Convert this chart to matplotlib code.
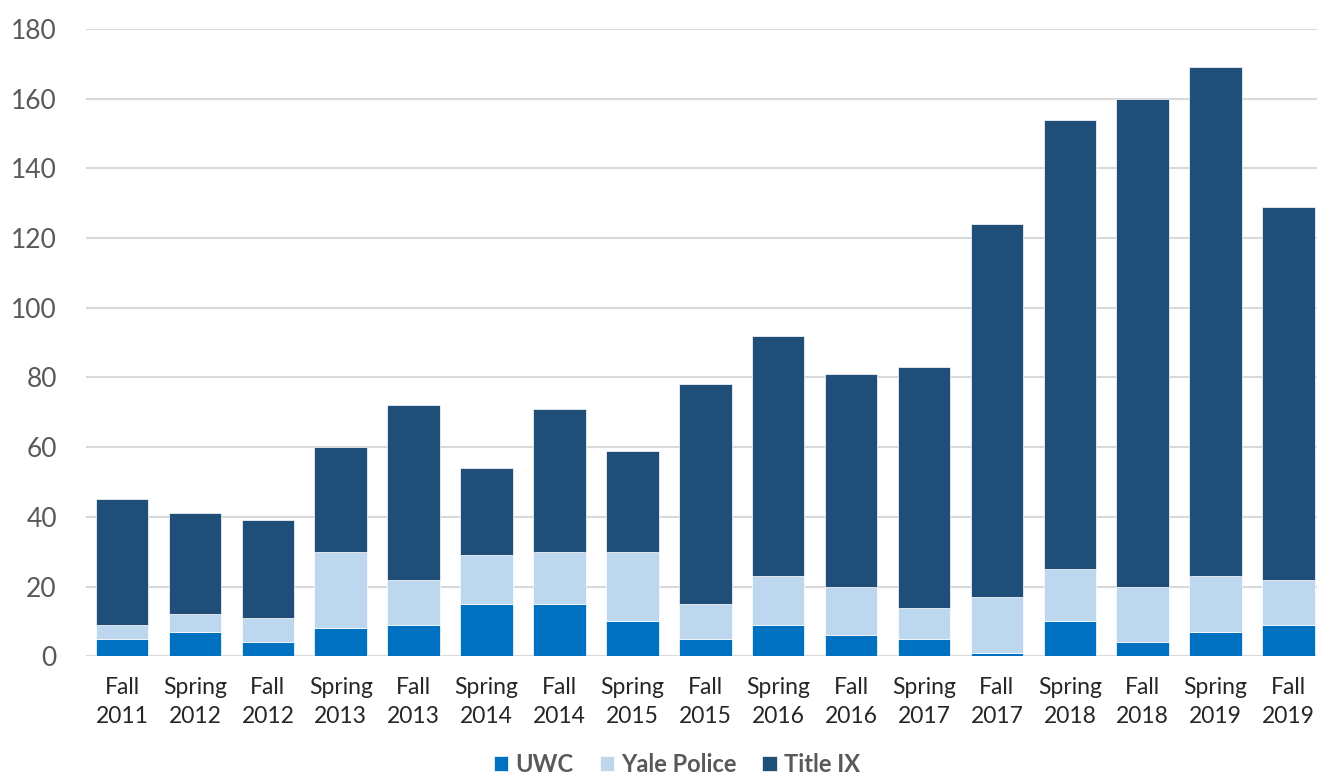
import matplotlib
matplotlib.use("Agg")
import matplotlib.pyplot as plt
import numpy as np

categories = ["Fall\n2011", "Spring\n2012", "Fall\n2012", "Spring\n2013", "Fall\n2013",
              "Spring\n2014", "Fall\n2014", "Spring\n2015", "Fall\n2015", "Spring\n2016",
              "Fall\n2016", "Spring\n2017", "Fall\n2017", "Spring\n2018", "Fall\n2018",
              "Spring\n2019", "Fall\n2019"]
uwc = [5, 7, 4, 8, 9, 15, 15, 10, 5, 9, 6, 5, 1, 10, 4, 7, 9]
yale_police = [4, 5, 7, 22, 13, 14, 15, 20, 10, 14, 14, 9, 16, 15, 16, 16, 13]
title_ix = [36, 29, 28, 30, 50, 25, 41, 29, 63, 69, 61, 69, 107, 129, 140, 146, 107]
series_names = ["UWC", "Yale Police", "Title IX"]
colors = ["#0070C0", "#BDD7EE", "#1F4E79"]
yticks = [0, 20, 40, 60, 80, 100, 120, 140, 160, 180]

plt.rcParams['font.family'] = ['Lato', 'DejaVu Sans']

fig = plt.figure(figsize=(13.17, 7.74), dpi=100)
ax = fig.add_axes([86/1317, 1 - 656.3/774, 1 - 86/1317, (656.3 - 29)/774])

x = np.arange(len(categories))
w = 0.72
bottom = np.zeros(len(categories))
handles = []
for vals, name, c in zip([uwc, yale_police, title_ix], series_names, colors):
    b = ax.bar(x, vals, w, bottom=bottom, color=c, edgecolor='white', linewidth=0.5,
               label=name, zorder=3)
    handles.append(b)
    bottom += np.array(vals)

ax.set_xlim(-0.494, 16.39)
ax.set_ylim(0, 180)
ax.set_yticks(yticks)
ax.set_xticks(x)
ax.set_xticklabels(categories, linespacing=1.45)
for s in ax.spines.values():
    s.set_visible(False)
ax.grid(axis='y', color='#d9d9d9', linewidth=1.5, zorder=0)
ax.set_axisbelow(True)
ax.tick_params(axis='both', length=0, colors='#595959')
ax.tick_params(axis='y', labelsize=19, pad=21)
ax.tick_params(axis='x', labelsize=16.5, pad=15, labelcolor='#262626')
for t in ax.get_yticklabels():
    t.set_color('#595959')

leg = fig.legend(handles=handles, labels=series_names, loc='center',
                 bbox_to_anchor=(677/1317, 1 - 764/774), ncol=3, frameon=False,
                 prop={'size': 17, 'weight': 'bold'}, handlelength=0.6, handleheight=0.6,
                 handletextpad=0.3, columnspacing=1.1, borderpad=0.0)
for t in leg.get_texts():
    t.set_color('#595959')

fig.savefig("out.png", dpi=100)
